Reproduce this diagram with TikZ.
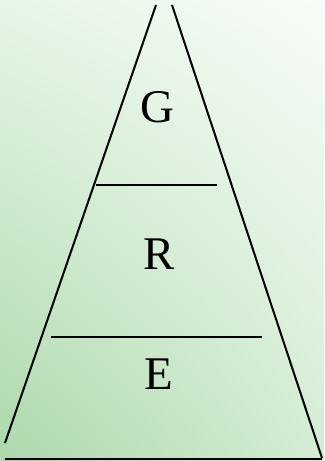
\documentclass[tikz,border=0pt]{standalone}
\usepackage{fontspec}
\setmainfont{Liberation Serif}
\usepackage{xcolor}
\usetikzlibrary{positioning, shadings}

\definecolor{bgLL}{RGB}{172,216,172}
\definecolor{bgLR}{RGB}{212,236,212}
\definecolor{bgUL}{RGB}{230,245,230}
\definecolor{bgUR}{RGB}{248,252,248}

\tikzset{
  layer/.style={font=\fontsize{47}{50}\selectfont, inner sep=0pt},
  edge/.style={line width=2bp, black}
}

\begin{document}
\begin{tikzpicture}[x=1bp, y=-1bp]
\shade[lower left=bgLL, lower right=bgLR, upper left=bgUL, upper right=bgUR] (0,461) rectangle (324,0);
\useasboundingbox (0,0) rectangle (324,461);
% sides of the pyramid
\draw[edge] (156,5) -- (5,443);
\draw[edge] (172,5) -- (322,458);
\draw[edge] (5,458.5) -- (322,458.5);
% dividers
\draw[edge] (96,185.5) -- (217,185.5);
\draw[edge] (51,337) -- (262,337);
% labels
\node[layer] (g) at (157,107) {G};
\node[layer] (r) at (159,254) {R};
\node[layer] (e) at (159,374) {E};
\end{tikzpicture}
\end{document}
